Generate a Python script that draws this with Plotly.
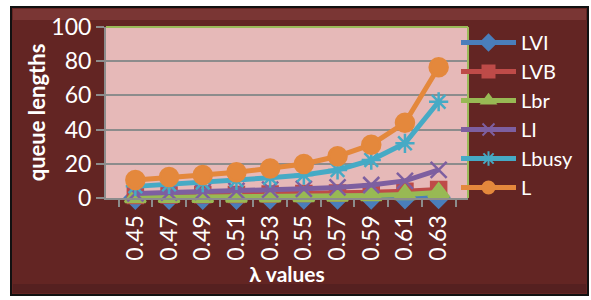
import plotly.graph_objects as go

lam = ["0.45", "0.47", "0.49", "0.51", "0.53", "0.55", "0.57", "0.59", "0.61", "0.63"]
LVI = [0.1, 0.1, 0.1, 0.1, 0.2, 0.2, 0.2, 0.3, 0.4, 0.5]
LVB = [1.5, 1.7, 1.9, 2.1, 2.3, 2.6, 2.9, 3.3, 3.9, 5.0]
Lbr = [0.3, 0.4, 0.5, 0.6, 0.7, 0.9, 1.1, 1.5, 2.1, 3.2]
LI = [2.7, 3.1, 3.6, 4.2, 4.9, 5.4, 6.2, 7.6, 10.0, 16.4]
Lbusy = [6.8, 8.0, 9.0, 10.3, 11.8, 13.4, 16.4, 22.2, 32.0, 56.3]
L = [10.5, 12.3, 13.5, 15.0, 17.2, 19.9, 24.4, 31.2, 44.0, 76.5]

series = [
    ("LVI", LVI, "#4A7EBB", "diamond", 16),
    ("LVB", LVB, "#BE4B48", "square", 15),
    ("Lbr", Lbr, "#98B954", "triangle-up", 18),
    ("LI", LI, "#7D5FA0", "x-thin-open", 16),
    ("Lbusy", Lbusy, "#46AAC5", "asterisk-open", 16),
    ("L", L, "#E4883C", "circle", 18),
]

FONT = "Lato"
fig = go.Figure()
for name, vals, col, sym, sz in series:
    fig.add_trace(go.Scatter(
        x=lam, y=vals, name=name, mode="lines+markers",
        line=dict(color=col, width=5),
        marker=dict(symbol=sym, size=sz, color=col, line=dict(color=col, width=2.5)),
        cliponaxis=False,
    ))

W, H = 591, 300
L_, R_, T_, B_ = 106, 123, 27, 102
pw, ph = W - L_ - R_, H - T_ - B_

def px(x):
    return (x - L_) / pw

def py(y):
    return (H - B_ - y) / ph

shapes = [
    dict(type="rect", xref="paper", yref="paper", layer="below",
         x0=px(11), x1=px(588), y0=py(295), y1=py(7),
         fillcolor="#632523", line=dict(color="#111111", width=2)),
    dict(type="rect", xref="paper", yref="paper", layer="below",
         x0=px(13), x1=px(586), y0=py(20), y1=py(9),
         fillcolor="#7A3634", line=dict(width=0)),
    dict(type="rect", xref="paper", yref="paper", layer="below",
         x0=px(13), x1=px(586), y0=py(293), y1=py(284),
         fillcolor="#552020", line=dict(width=0)),
    dict(type="rect", xref="paper", yref="paper", layer="below",
         x0=0, x1=1, y0=0, y1=1, fillcolor="#E6B9B8", line=dict(width=0)),
    dict(type="line", xref="paper", yref="paper", x0=0, x1=1, y0=1, y1=1,
         line=dict(color="#9BBB59", width=2)),
    dict(type="line", xref="paper", yref="paper", x0=1, x1=1, y0=0, y1=1,
         line=dict(color="#9BBB59", width=2)),
]

fig.update_layout(
    width=W, height=H,
    margin=dict(l=L_, r=R_, t=T_, b=B_, autoexpand=False),
    paper_bgcolor="white", plot_bgcolor="rgba(0,0,0,0)",
    font=dict(family=FONT, color="white", size=20),
    shapes=shapes,
    showlegend=True,
    legend=dict(xref="container", yref="container",
                x=456 / W, xanchor="left", y=1 - 23 / H, yanchor="top",
                font=dict(size=20, color="white", family=FONT),
                bgcolor="rgba(0,0,0,0)", itemwidth=55, tracegroupgap=0,
                itemsizing="constant", maxheight=300),
    xaxis=dict(type="category", tickangle=-90, tickson="boundaries",
               ticks="outside", ticklen=7, tickcolor="#8C8C8C", tickwidth=2,
               showline=True, linecolor="#8C8C8C", linewidth=2, automargin=False,
               showgrid=False, tickfont=dict(size=23, color="white"), ticklabelstandoff=6,
               title=dict(text="<b>λ values</b>", font=dict(size=21, color="white"), standoff=0)),
    yaxis=dict(range=[0, 100], dtick=20, ticks="outside", ticklen=8, automargin=False,
               tickcolor="#8C8C8C", tickwidth=2, showline=True,
               linecolor="#8C8C8C", linewidth=2, gridcolor="#8C8C8C", gridwidth=2,
               zeroline=False, tickfont=dict(size=23, color="white"),
               title=dict(text="<b>queue lengths</b>", font=dict(size=22, color="white"), standoff=0)),
)

fig.write_html("out.html", config={"displayModeBar": False},
               post_script="document.body.style.margin='0px';document.body.style.overflow='hidden';")
